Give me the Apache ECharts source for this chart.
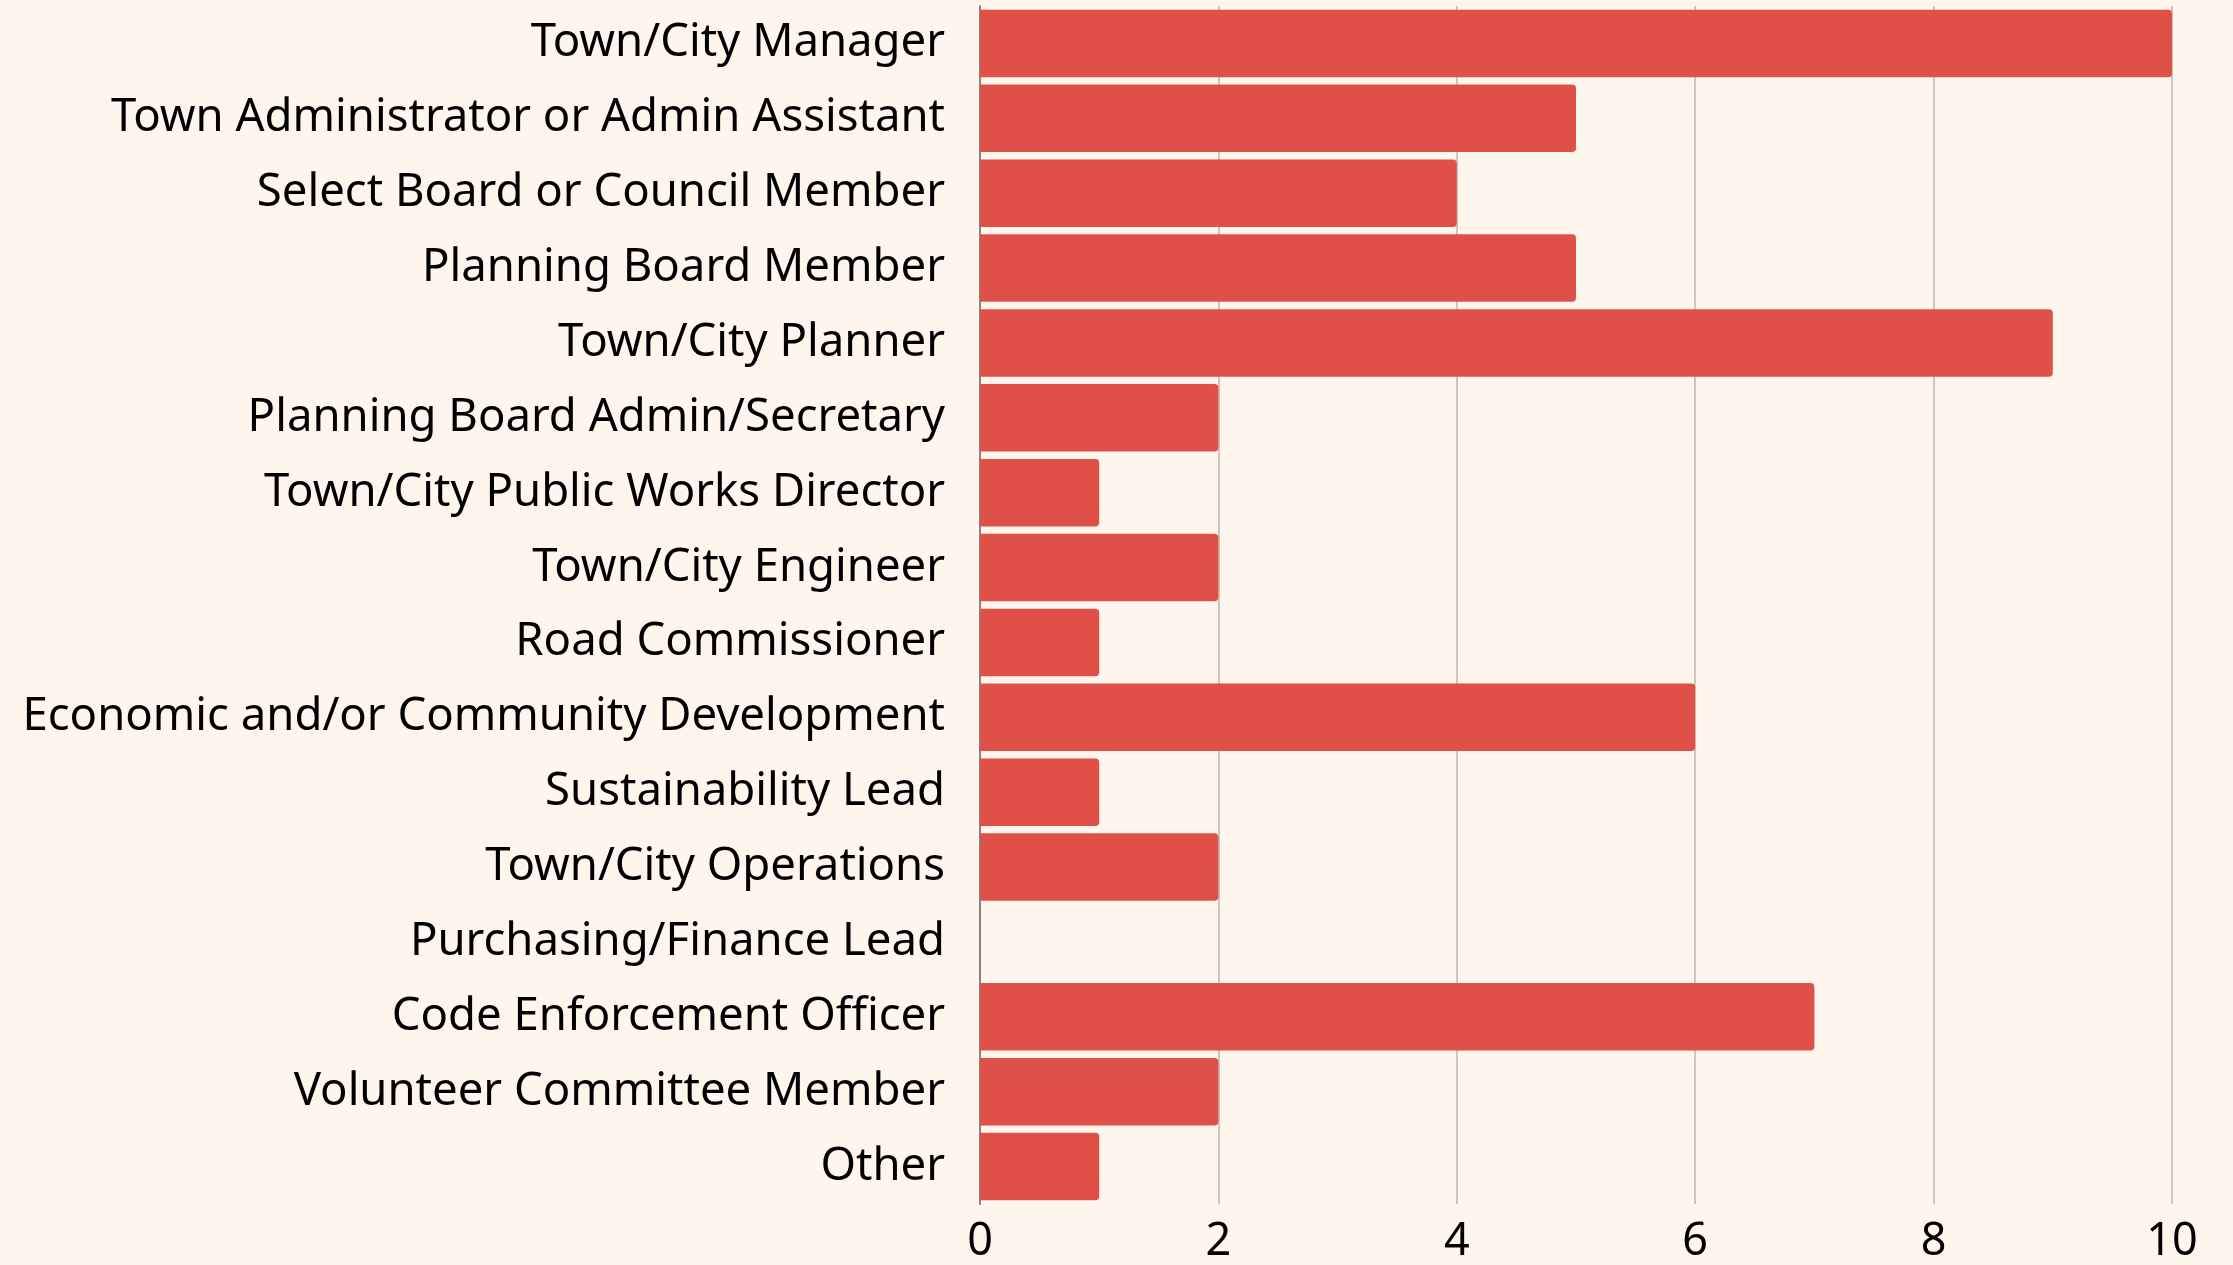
<!DOCTYPE html>
<html>
<head>
<meta charset="utf-8">
<script src="https://cdn.jsdelivr.net/npm/echarts@6/dist/echarts.min.js"></script>
<style>
  html, body { margin: 0; padding: 0; background: #fef5ec; }
  #chart { width: 2233px; height: 1265px; }
</style>
</head>
<body>
<div id="chart"></div>
<script>
var categories = [
  "Town/City Manager",
  "Town Administrator or Admin Assistant",
  "Select Board or Council Member",
  "Planning Board Member",
  "Town/City Planner",
  "Planning Board Admin/Secretary",
  "Town/City Public Works Director",
  "Town/City Engineer",
  "Road Commissioner",
  "Economic and/or Community Development",
  "Sustainability Lead",
  "Town/City Operations",
  "Purchasing/Finance Lead",
  "Code Enforcement Officer",
  "Volunteer Committee Member",
  "Other"
];
var counts = [10, 5, 4, 5, 9, 2, 1, 2, 1, 6, 1, 2, 0, 7, 2, 1];
var xTicks = [0, 2, 4, 6, 8, 10];

var chart = echarts.init(document.getElementById("chart"));
var option = {
  backgroundColor: "#fef5ec",
  animation: false,
  textStyle: { fontFamily: "Noto Sans" },
  grid: {
    left: 980,
    right: 61,
    top: 6,
    bottom: 60,
    containLabel: false
  },
  xAxis: {
    type: "value",
    min: xTicks[0],
    max: xTicks[xTicks.length - 1],
    interval: 2,
    axisLine: { show: false },
    axisTick: { show: false },
    axisLabel: {
      color: "#000",
      fontSize: 45,
      margin: 16
    },
    splitLine: {
      show: true,
      lineStyle: { color: "#cdc6bf", width: 2 }
    }
  },
  yAxis: {
    type: "category",
    inverse: true,
    data: categories,
    axisLine: { show: true, lineStyle: { color: "#8a8580", width: 2 } },
    axisTick: { show: false },
    axisLabel: {
      color: "#000",
      fontSize: 45.5,
      margin: 35
    }
  },
  series: [
    {
      type: "bar",
      data: counts,
      barCategoryGap: "10%",
      itemStyle: {
        color: "#df5148",
        borderRadius: [0, 4, 4, 0]
      }
    }
  ]
};
chart.setOption(option);
window.addEventListener("resize", function () {
  chart.resize();
});
</script>
</body>
</html>
